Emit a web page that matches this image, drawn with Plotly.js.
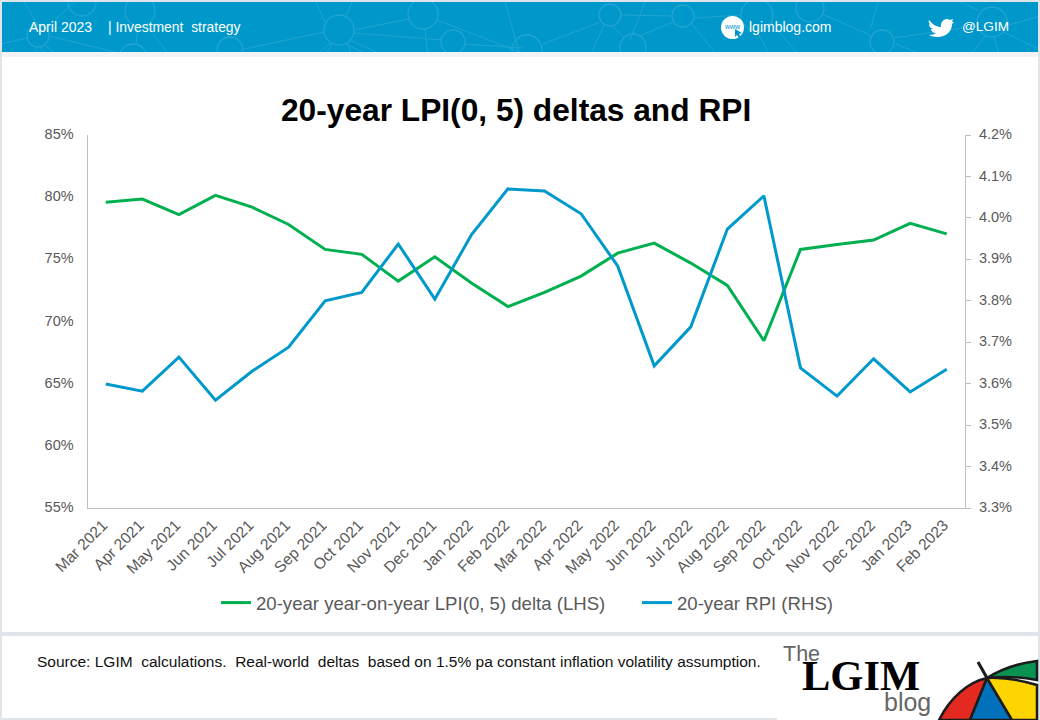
<!DOCTYPE html>
<html><head><meta charset="utf-8">
<script src="https://cdn.plot.ly/plotly-3.0.1.min.js"></script>
<style>html,body{margin:0;padding:0;background:#fff}#c{width:1040px;height:720px}</style></head>
<body><div id="c"></div>
<script>
const months=["Mar 2021","Apr 2021","May 2021","Jun 2021","Jul 2021","Aug 2021","Sep 2021","Oct 2021","Nov 2021","Dec 2021","Jan 2022","Feb 2022","Mar 2022","Apr 2022","May 2022","Jun 2022","Jul 2022","Aug 2022","Sep 2022","Oct 2022","Nov 2022","Dec 2022","Jan 2023","Feb 2023"];
const lpiDelta=[79.6,79.85,78.6,80.15,79.2,77.8,75.8,75.4,73.25,75.2,73.1,71.2,72.35,73.65,75.5,76.3,74.7,72.9,68.45,75.8,76.2,76.55,77.9,77.05];
const rpi=[3.599,3.582,3.664,3.56,3.63,3.688,3.80,3.82,3.937,3.804,3.959,4.07,4.065,4.01,3.884,3.643,3.737,3.973,4.053,3.638,3.57,3.66,3.58,3.635];
const W=1040,H=720;
const X=x=>x/W, Y=y=>1-y/H;
const rect=(x0,y0,x1,y1,c)=>({type:'rect',xref:'paper',yref:'paper',x0:X(x0),x1:X(x1),y0:Y(y0),y1:Y(y1),fillcolor:c,line:{width:0},layer:'below'});
const net='#22a4d1';
const circle=(cx,cy,r)=>({type:'circle',xref:'paper',yref:'paper',x0:X(cx-r),x1:X(cx+r),y0:Y(cy-r),y1:Y(cy+r),line:{color:net,width:1.3},fillcolor:'rgba(0,0,0,0)',layer:'below'});
const seg=(a,b,c,d)=>({type:'line',xref:'paper',yref:'paper',x0:X(a),y0:Y(b),x1:X(c),y1:Y(d),line:{color:net,width:1},layer:'below'});
const path=(pts,fill,lc,lw)=>({type:'path',xref:'paper',yref:'paper',layer:'above',
  path:pts.map(p=>typeof p==='string'?p:(X(p[0])+' '+Y(p[1]))).join(' '),
  fillcolor:fill||'rgba(0,0,0,0)',line:{color:lc||'rgba(0,0,0,0)',width:lw||0}});
const poly=(arr)=>{const o=[];arr.forEach((p,i)=>{o.push(i?'L':'M');o.push(p)});o.push('Z');return o};
const circles=[[38,36,11],[82,2,14],[140,11,15],[339,30,15],[423,14,15],[453,42,12],[230,50,13],[133,58,14],[610,15,11],[683,16,11],[757,15,16],[810,8,14],[633,47,13],[527,50,15],[882,42,12],[992,22,15]];
const links=[[0,44,27,38],[49,36,115,52],[46,28,75,2],[38,47,30,56],[40,47,46,56],[44,45,60,56],[146,25,170,56],[138,26,136,44],[24,2,38,25],[240,50,324,32],[354,30,408,19],[354,33,442,40],[350,40,385,56],[330,43,316,56],[332,44,325,56],[348,43,352,56],[346,44,370,56],[437,20,520,52],[425,29,428,56],[465,44,523,48],[325,22,316,2],[346,16,352,2],[505,2,520,56],[543,44,600,22],[612,26,625,38],[604,25,590,56],[621,15,672,16],[640,36,673,22],[645,2,630,40],[692,24,718,56],[695,18,741,15],[757,31,770,56],[770,22,800,56],[822,14,870,35],[893,38,978,26],[878,2,870,30],[1005,26,1040,16],[1003,32,1037,48],[985,36,970,56],[994,37,1000,56],[978,10,960,2],[896,44,925,56]];
const shapes=[
 rect(0,0,W,H,'#dfe5ea'),
 rect(2,2,1038,52,'#0098ca'),
 ...links.map(l=>seg(l[0],l[1],l[2],l[3])),
 ...circles.map(c=>circle(c[0],c[1],c[2])),
 rect(0,0,W,2,'#dfe5ea'),
 rect(0,2,2,56,'#dfe5ea'),
 rect(1038,2,W,56,'#dfe5ea'),
 rect(2,52,1038,632,'#ffffff'),
 rect(2,52,1038,57,'#f1f3f5'),
 rect(2,636,1038,718,'#ffffff'),
 rect(777,718,1038,720,'#ffffff'),
 // website badge
 {type:'circle',xref:'paper',yref:'paper',x0:X(721),x1:X(744),y0:Y(16),y1:Y(39),fillcolor:'#fff',line:{width:0},layer:'above'},
 path(poly([[735,29],[742,33],[739,34],[741,37],[739,38],[737,35],[735,37]]),'#0098ca'),
 // twitter bird
 path(['M',[929,20],'C',[933,25],[937,27],[941,27],'C',[940,22],[945,17],[950,20],'L',[953,19],'L',[952,22],'L',[954,22],'L',[952,24],'C',[952,33],[944,37],[938,37],'C',[934,37],[931,36],[929,35],'C',[932,35],[935,34],[936,33],'C',[933,33],[931,31],[931,29],'L',[933,29],'C',[930,28],[929,26],[929,24],'L',[931,25],'C',[929,23],[928,22],[929,20],'Z'],'#ffffff'),
 // umbrella
 path(['M',[987,678],'C',[968,682],[950,698],[939,720],'L',[970,720],'Z'],'#e42a20','#1c1c1c',2.5),
 path(['M',[987,678],'L',[970,720],'L',[1012,720],'Z'],'#0171bb','#1c1c1c',2.5),
 path(['M',[987,678],'L',[1012,720],'L',[1037,720],'L',[1037,685],'C',[1020,680],[1003,677],[987,678],'Z'],'#ffd500','#1c1c1c',2.5),
 path(['M',[987,678],'C',[1003,668],[1020,663],[1037,661],'L',[1037,680],'C',[1020,677],[1003,676],[987,678],'Z'],'#0a9250','#1c1c1c',2.5),
 {type:'line',xref:'paper',yref:'paper',x0:X(978),y0:Y(662),x1:X(987),y1:Y(678),line:{color:'#1c1c1c',width:3},layer:'above'}
];
const sans='"Liberation Sans", Arial, sans-serif';
const txt=(s,x,y,size,color,anchor,extra)=>Object.assign({xref:'paper',yref:'paper',x:X(x),y:Y(y),text:s,showarrow:false,xanchor:anchor||'left',yanchor:'middle',font:{family:sans,size:size,color:color},borderpad:0,borderwidth:0},extra||{});
const annotations=[
 txt('April 2023',29,27,14,'#fff'),
 txt('| Investment  strategy',108,27,13.9,'#fff'),
 txt('lgimblog.com',749,27,14,'#fff'),
 txt('@LGIM',962,27,13.6,'#fff'),
 txt('www',732.5,26.5,7,'#0098ca','center'),
 txt('20-year LPI(0, 5) deltas and RPI',516,110,31.7,'#000','center',{font:{family:sans,size:31.7,color:'#000',weight:700}}),
 txt('Source: LGIM  calculations.  Real-world  deltas  based on 1.5% pa constant inflation volatility assumption.',37,661,15.5,'#111'),
 txt('The',783,654,21.5,'#666'),
 txt('LGIM',802,675,42.5,'#000','left',{font:{family:'"Liberation Serif", serif',size:42.5,color:'#000',weight:700}}),
 txt('blog',884,702,25,'#666')
];
const axisFont={family:sans,size:14.5,color:'#595959'};
const xFont={family:sans,size:15.6,color:'#595959'};
const traces=[
 {x:months,y:lpiDelta,name:'20-year year-on-year LPI(0, 5) delta (LHS)',type:'scatter',mode:'lines',line:{color:'#00b050',width:3},xaxis:'x',yaxis:'y'},
 {x:months,y:rpi,name:'20-year RPI (RHS)',type:'scatter',mode:'lines',line:{color:'#0099cc',width:3},xaxis:'x',yaxis:'y2'}
];
const layout={
 width:W,height:H,margin:{l:0,r:0,t:0,b:0,pad:0,autoexpand:false},paper_bgcolor:'rgba(0,0,0,0)',plot_bgcolor:'rgba(0,0,0,0)',
 font:{family:sans},showlegend:true,
 legend:{orientation:'h',x:X(216),xanchor:'left',y:Y(603),yanchor:'middle',font:{family:sans,size:18.6,color:'#595959'},itemwidth:30,entrywidth:376,entrywidthmode:'pixels',bgcolor:'rgba(0,0,0,0)',tracegroupgap:0},
 xaxis:{domain:[X(87.5),X(965)],type:'category',categoryorder:'array',categoryarray:months,range:[-0.5,23.5],tickangle:-45,tickfont:xFont,ticklabelshift:-3,ticklabelstandoff:1,showgrid:false,zeroline:false,showline:true,linecolor:'#bfbfbf',linewidth:1,ticks:'',anchor:'y'},
 yaxis:{domain:[Y(508),Y(135)],range:[55,85],dtick:5,tick0:55,ticksuffix:'%',tickfont:axisFont,showgrid:false,zeroline:false,showline:true,linecolor:'#bfbfbf',linewidth:1,ticks:'',ticklabelstandoff:10,ticklabelshift:-1,anchor:'x'},
 yaxis2:{domain:[Y(508),Y(135)],range:[3.3,4.2],dtick:0.1,tick0:3.3,tickformat:'.1f',ticksuffix:'%',tickfont:axisFont,side:'right',overlaying:'y',showgrid:false,zeroline:false,showline:true,linecolor:'#bfbfbf',linewidth:1,ticks:'outside',ticklen:5,tickcolor:'#bfbfbf',tickwidth:1,ticklabelstandoff:5,ticklabelshift:-1,anchor:'x'},
 shapes:shapes,annotations:annotations
};
Plotly.newPlot('c',traces,layout,{displayModeBar:false,staticPlot:true});
</script></body></html>
